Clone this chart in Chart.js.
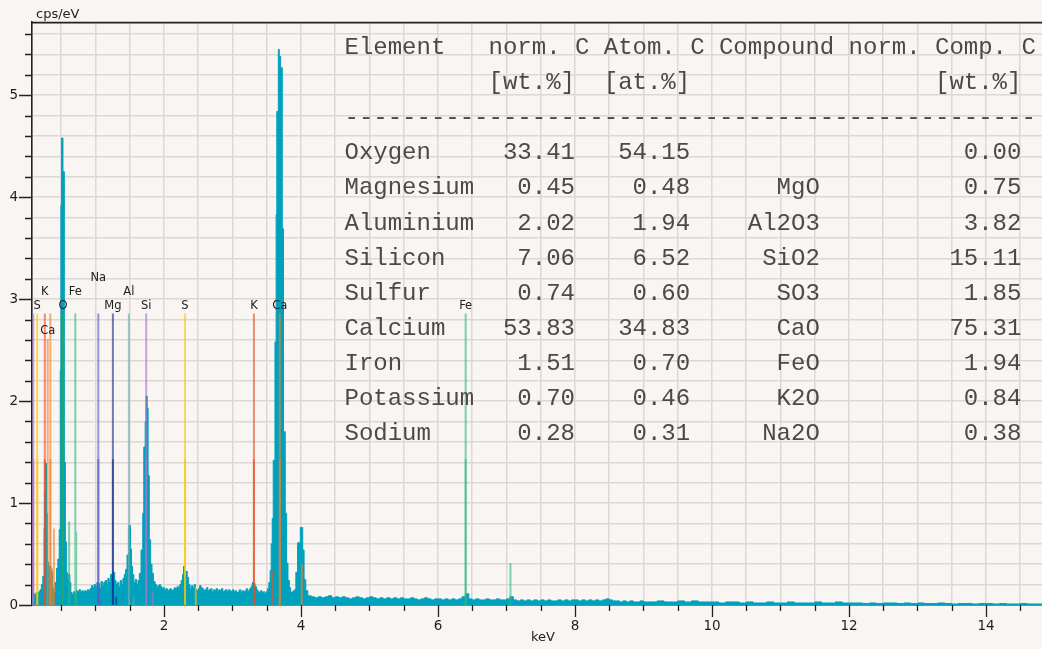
<!DOCTYPE html>
<html>
<head>
<meta charset="utf-8">
<script src="https://cdn.jsdelivr.net/npm/chart.js@4.4.0/dist/chart.umd.min.js"></script>
<style>
html,body{margin:0;padding:0;background:#f8f5f2;}
#wrap{width:1042px;height:649px;position:relative;}
</style>
</head>
<body>
<div id="wrap"><canvas id="c"></canvas></div>
<script>
// ---------- DATA ----------
// spectrum channels: [keV (bin start), cps/eV]
const spectrum = [
[0.073,0.09],[0.09,0.11],[0.11,0.10],[0.13,0.12],[0.15,0.09],[0.17,0.13],[0.19,0.15],[0.21,0.20],[0.23,0.28],[0.25,0.75],
[0.26,1.10],[0.27,1.39],[0.285,0.90],[0.30,0.42],[0.315,0.24],[0.33,0.38],[0.35,0.33],[0.37,0.17],[0.39,0.12],[0.41,0.22],
[0.43,0.36],[0.45,0.45],[0.47,0.74],[0.485,2.30],[0.495,3.92],[0.505,4.58],[0.525,4.25],[0.545,1.40],[0.56,0.62],[0.575,0.32],
[0.59,0.26],[0.61,0.30],[0.625,0.22],[0.64,0.12],[0.66,0.10],[0.68,0.13],[0.70,0.11],[0.72,0.14],[0.74,0.13],[0.76,0.15],
[0.78,0.13],[0.80,0.14],[0.82,0.12],[0.84,0.14],[0.86,0.13],[0.88,0.15],[0.90,0.14],[0.92,0.16],[0.94,0.19],[0.96,0.17],
[0.98,0.20],[1.00,0.18],[1.02,0.22],[1.04,0.21],[1.06,0.17],[1.08,0.23],[1.10,0.19],[1.12,0.22],[1.14,0.24],[1.16,0.20],
[1.18,0.26],[1.20,0.22],[1.22,0.30],[1.24,0.27],[1.26,0.32],[1.28,0.24],[1.30,0.20],[1.32,0.22],[1.34,0.18],[1.36,0.24],
[1.38,0.20],[1.40,0.26],[1.42,0.30],[1.44,0.35],[1.46,0.49],[1.49,0.78],[1.51,0.55],[1.525,0.38],[1.54,0.30],[1.56,0.22],
[1.58,0.25],[1.60,0.20],[1.62,0.24],[1.64,0.31],[1.665,0.54],[1.69,0.90],[1.705,1.55],[1.725,1.80],[1.738,2.05],[1.755,1.93],
[1.768,1.27],[1.785,0.64],[1.805,0.40],[1.825,0.31],[1.845,0.23],[1.87,0.20],[1.89,0.17],[1.91,0.19],[1.93,0.20],[1.95,0.18],
[1.97,0.16],[1.99,0.17],[2.01,0.15],[2.03,0.16],[2.05,0.14],[2.07,0.15],[2.09,0.16],[2.11,0.14],[2.13,0.15],[2.15,0.17],
[2.17,0.16],[2.19,0.18],[2.21,0.17],[2.23,0.20],[2.25,0.24],[2.27,0.30],[2.285,0.38],[2.30,0.30],[2.32,0.33],[2.34,0.27],
[2.36,0.20],[2.38,0.16],[2.40,0.19],[2.42,0.17],[2.44,0.20],[2.46,0.15],[2.48,0.14],[2.50,0.16],[2.52,0.19],[2.54,0.17],
[2.56,0.16],[2.58,0.14],[2.60,0.15],[2.62,0.17],[2.64,0.14],[2.66,0.15],[2.68,0.16],[2.70,0.13],[2.72,0.15],[2.74,0.14],
[2.76,0.16],[2.78,0.13],[2.80,0.15],[2.82,0.14],[2.84,0.16],[2.86,0.13],[2.88,0.14],[2.90,0.15],[2.92,0.13],[2.94,0.15],
[2.96,0.14],[2.98,0.13],[3.00,0.15],[3.02,0.13],[3.04,0.14],[3.06,0.12],[3.08,0.13],[3.10,0.15],[3.12,0.13],[3.14,0.14],
[3.16,0.12],[3.18,0.14],[3.20,0.16],[3.22,0.13],[3.24,0.15],[3.26,0.17],[3.28,0.19],[3.29,0.22],[3.31,0.21],[3.33,0.18],
[3.35,0.15],[3.37,0.13],[3.39,0.12],[3.41,0.14],[3.43,0.12],[3.45,0.13],[3.47,0.11],[3.49,0.13],[3.51,0.16],[3.53,0.22],
[3.55,0.34],[3.565,0.60],[3.58,0.85],[3.595,1.42],[3.62,2.58],[3.637,3.83],[3.647,4.84],[3.669,5.45],[3.683,5.38],[3.704,5.27],
[3.727,3.69],[3.745,1.70],[3.77,0.90],[3.79,0.41],[3.81,0.24],[3.83,0.17],[3.85,0.12],[3.87,0.13],[3.89,0.14],[3.905,0.15],
[3.925,0.32],[3.95,0.61],[3.99,0.76],[4.025,0.54],[4.045,0.25],[4.07,0.14],[4.10,0.09],[4.15,0.08],[4.20,0.07],[4.25,0.08],
[4.30,0.07],[4.35,0.08],[4.40,0.09],[4.45,0.07],[4.50,0.08],[4.55,0.07],[4.60,0.08],[4.65,0.07],[4.70,0.06],[4.75,0.07],
[4.80,0.08],[4.85,0.07],[4.90,0.06],[4.95,0.07],[5.00,0.08],[5.05,0.07],[5.10,0.06],[5.15,0.07],[5.20,0.06],[5.25,0.07],
[5.30,0.06],[5.35,0.07],[5.40,0.06],[5.45,0.07],[5.50,0.06],[5.55,0.06],[5.60,0.07],[5.65,0.06],[5.70,0.05],[5.75,0.06],
[5.80,0.07],[5.85,0.06],[5.90,0.05],[5.95,0.06],[6.00,0.06],[6.05,0.05],[6.10,0.06],[6.15,0.05],[6.20,0.06],[6.25,0.05],
[6.30,0.06],[6.35,0.08],[6.40,0.11],[6.45,0.06],[6.50,0.05],[6.55,0.06],[6.60,0.05],[6.65,0.05],[6.70,0.06],[6.75,0.05],
[6.80,0.05],[6.85,0.06],[6.90,0.05],[6.95,0.05],[7.00,0.06],[7.05,0.08],[7.10,0.05],[7.15,0.04],[7.20,0.05],[7.25,0.04],
[7.30,0.05],[7.35,0.04],[7.40,0.05],[7.45,0.04],[7.50,0.05],[7.55,0.04],[7.60,0.05],[7.65,0.04],[7.70,0.04],[7.75,0.05],
[7.80,0.04],[7.85,0.05],[7.90,0.04],[7.95,0.05],[8.00,0.05],[8.05,0.04],[8.10,0.05],[8.15,0.04],[8.20,0.05],[8.25,0.04],
[8.30,0.05],[8.35,0.04],[8.40,0.05],[8.45,0.06],[8.50,0.05],[8.55,0.04],[8.60,0.04],[8.65,0.03],[8.70,0.04],[8.75,0.03],
[8.80,0.04],[8.85,0.03],[8.90,0.03],[8.95,0.04],[9.00,0.03],[9.10,0.03],[9.20,0.04],[9.30,0.03],[9.40,0.03],[9.50,0.04],
[9.60,0.03],[9.70,0.04],[9.80,0.03],[9.90,0.03],[10.0,0.03],[10.1,0.02],[10.2,0.03],[10.3,0.03],[10.4,0.02],[10.5,0.03],
[10.6,0.02],[10.7,0.02],[10.8,0.03],[10.9,0.02],[11.0,0.02],[11.1,0.03],[11.2,0.02],[11.3,0.02],[11.4,0.02],[11.5,0.03],
[11.6,0.02],[11.7,0.02],[11.8,0.03],[11.9,0.02],[12.0,0.02],[12.1,0.02],[12.2,0.015],[12.3,0.02],[12.4,0.015],[12.5,0.02],
[12.6,0.02],[12.7,0.015],[12.8,0.02],[12.9,0.015],[13.0,0.02],[13.1,0.015],[13.2,0.015],[13.3,0.02],[13.4,0.015],[13.5,0.01],
[13.6,0.015],[13.7,0.015],[13.8,0.01],[13.9,0.015],[14.0,0.015],[14.1,0.01],[14.2,0.015],[14.3,0.01],[14.4,0.01],[14.5,0.015],
[14.6,0.01],[14.7,0.01],[14.82,0.01]
];

// element line markers: [element, keV, relative height]
const markerLines = [
['Si',0.092,2.86],['Si',1.740,2.86],['Si',1.836,0.13],
['S',0.149,2.86],['S',2.307,2.86],['S',2.464,0.18],
['K',0.260,2.86],['K',3.313,2.86],['K',3.590,0.34],
['Ca',0.302,2.61],['Ca',0.341,2.86],['Ca',0.370,0.36],['Ca',0.394,0.75],['Ca',3.691,2.86],['Ca',4.012,0.40],
['O',0.525,2.86],
['Fe',0.615,0.82],['Fe',0.705,2.86],['Fe',0.718,0.72],['Fe',6.404,2.86],['Fe',7.058,0.41],
['Na',1.041,2.86],['Na',1.071,0.05],
['Mg',1.254,2.86],['Mg',1.302,0.08],
['Al',1.487,2.86],['Al',1.557,0.08]
];
// second (alpha-2) lines of the doublets, half height
const markerDoublets = [
['Si',0.092,1.43],['Si',1.740,1.43],['S',0.149,1.43],['S',2.307,1.43],['K',0.260,1.43],['K',3.313,1.43],
['Ca',0.341,1.43],['Ca',3.691,1.43],['Fe',6.404,1.43],['Na',1.041,1.43],['Mg',1.254,1.43],['Al',1.487,0.75]
];
// labels: [text, keV, level (cps/eV)]
const markerLabels = [
['S',0.149,2.935],['K',0.260,3.066],['Ca',0.302,2.69],['O',0.525,2.935],['Fe',0.705,3.066],['Na',1.041,3.203],
['Mg',1.254,2.935],['Al',1.487,3.066],['Si',1.740,2.935],['S',2.307,2.935],['K',3.313,2.935],['Ca',3.691,2.935],['Fe',6.404,2.935]
];
const elementColors = {
Si:'rgba(176,112,200,0.62)', S:'rgba(245,200,0,0.62)', K:'rgba(238,76,36,0.62)', Ca:'rgba(246,126,36,0.62)',
O:'rgba(40,170,90,0.75)', Fe:'rgba(48,184,128,0.62)', Na:'rgba(88,88,200,0.62)', Mg:'rgba(20,50,150,0.62)', Al:'rgba(100,168,168,0.62)'
};

// quantification table
const tableHeader1 = 'Element   norm. C Atom. C Compound norm. Comp. C';
const tableUnits = ['[wt.%]','[at.%]','[wt.%]'];
const tableElements = ['Oxygen','Magnesium','Aluminium','Silicon','Sulfur','Calcium','Iron','Potassium','Sodium'];
const tableNormC = ['33.41','0.45','2.02','7.06','0.74','53.83','1.51','0.70','0.28'];
const tableAtomC = ['54.15','0.48','1.94','6.52','0.60','34.83','0.70','0.46','0.31'];
const tableCompound = ['','MgO','Al2O3','SiO2','SO3','CaO','FeO','K2O','Na2O'];
const tableCompC = ['0.00','0.75','3.82','15.11','1.85','75.31','1.94','0.84','0.38'];

// axes
const xTickLabels = [2,4,6,8,10,12,14];
const yTickLabels = [0,1,2,3,4,5];
const xRange = [0.073, 14.818];
const yRange = [0, 5.717];

// ---------- BUILD ----------
const TEAL = 'rgb(0,161,189)';
const xGrid = []; for (let k = 1; k <= 29; k++) xGrid.push(k * 0.5);
const yGrid = []; for (let k = 0; k <= 28; k++) yGrid.push(Math.round(k * 2) / 10);

const specData = spectrum.map(p => ({x: p[0], y: p[1]}));

function markerDataset(list, el) {
  const d = [];
  list.filter(m => m[0] === el).forEach(m => { d.push({x: m[1], y: 0}, {x: m[1], y: m[2]}, {x: m[1], y: null}); });
  return {
    data: d, borderColor: elementColors[el], borderWidth: 2, pointRadius: 0, fill: false,
    spanGaps: false, order: 1, tension: 0
  };
}
const elements = Object.keys(elementColors);
const datasets = [{
  data: specData, stepped: true, fill: 'origin', backgroundColor: TEAL, borderColor: TEAL,
  borderWidth: 1, pointRadius: 0, order: 10
}];
elements.forEach(el => datasets.push(markerDataset(markerLines, el)));
elements.forEach(el => { if (markerDoublets.some(m => m[0] === el)) datasets.push(markerDataset(markerDoublets, el)); });

const AXIS_FONT = {family: 'DejaVu Sans', size: 13.5};

const bgPlugin = {
  id: 'bg',
  beforeDraw(chart) {
    const c = chart.ctx; c.save(); c.fillStyle = '#f8f5f2'; c.fillRect(0, 0, chart.width, chart.height); c.restore();
  }
};
const labelPlugin = {
  id: 'labels',
  afterDatasetsDraw(chart) {
    const c = chart.ctx, x = chart.scales.x, y = chart.scales.y;
    c.save(); c.font = '11.5px "DejaVu Sans"'; c.fillStyle = '#222'; c.textAlign = 'center'; c.textBaseline = 'middle';
    markerLabels.forEach(l => c.fillText(l[0], x.getPixelForValue(l[1]), y.getPixelForValue(l[2])));
    c.restore();
  }
};
const framePlugin = {
  id: 'frame',
  afterDraw(chart) {
    const c = chart.ctx, a = chart.chartArea, x = chart.scales.x, y = chart.scales.y;
    c.save();
    c.strokeStyle = '#222'; c.lineWidth = 1.3;
    c.beginPath();
    y.ticks.forEach(t => {
      const py = Math.round(y.getPixelForValue(t.value)) + 0.5;
      const major = Math.abs(t.value - Math.round(t.value)) < 1e-6;
      c.moveTo(a.left - (major ? 13 : 7), py); c.lineTo(a.left, py);
    });
    x.ticks.forEach(t => {
      const px = Math.round(x.getPixelForValue(t.value)) + 0.5;
      const major = xTickLabels.indexOf(t.value) >= 0;
      c.moveTo(px, a.bottom); c.lineTo(px, a.bottom + (major ? 12 : 6));
    });
    c.stroke();
    c.lineWidth = 1.6;
    c.beginPath(); c.moveTo(a.left, a.top + 0.5); c.lineTo(a.right, a.top + 0.5); c.stroke();
    // axis titles
    c.fillStyle = '#222'; c.font = '13px "DejaVu Sans"'; c.textBaseline = 'middle';
    c.textAlign = 'left'; c.fillText('cps/eV', 36, 15);
    c.textAlign = 'center'; c.fillText('keV', 543, 638);
    // table
    c.font = '24px "Liberation Mono"'; c.fillStyle = '#4a4a4a'; c.textAlign = 'left'; c.textBaseline = 'alphabetic';
    const rows = [tableHeader1,
      ' '.repeat(10) + tableUnits[0] + '  ' + tableUnits[1] + ' '.repeat(17) + tableUnits[2],
      '-'.repeat(48)];
    tableElements.forEach((e, i) => rows.push(
      e.padEnd(10) + tableNormC[i].padStart(6) + tableAtomC[i].padStart(8) + tableCompound[i].padStart(9) + tableCompC[i].padStart(14)));
    rows.forEach((r, i) => c.fillText(r, 344.5, 54 + 35.1 * i));
    c.restore();
  }
};

Chart.defaults.font.family = 'DejaVu Sans';
new Chart(document.getElementById('c'), {
  type: 'line',
  data: {datasets},
  options: {
    responsive: true, maintainAspectRatio: false, devicePixelRatio: 1, animation: false,
    events: [],
    layout: {padding: {top: 20.7, left: 0, right: 0, bottom: 0}},
    plugins: {legend: {display: false}, tooltip: {enabled: false}},
    scales: {
      x: {
        type: 'linear', min: xRange[0], max: xRange[1],
        afterBuildTicks: s => { s.ticks = xGrid.map(v => ({value: v})); },
        afterFit: s => { s.height = 44; },
        ticks: {
          autoSkip: false, maxRotation: 0, padding: 13, font: AXIS_FONT, color: '#1e1e1e',
          callback: v => xTickLabels.indexOf(v) >= 0 ? String(v) : ''
        },
        grid: {drawTicks: false, color: '#dbd8d5', lineWidth: 1.5},
        border: {display: true, color: '#222', width: 1.6}
      },
      y: {
        type: 'linear', min: yRange[0], max: yRange[1],
        afterBuildTicks: s => { s.ticks = yGrid.map(v => ({value: v})); },
        afterFit: s => { s.width = 32; },
        ticks: {
          autoSkip: false, padding: 14, font: AXIS_FONT, color: '#1e1e1e',
          callback: v => { const r = Math.round(v); return (Math.abs(v - r) < 1e-6 && yTickLabels.indexOf(r) >= 0) ? String(r) : ''; }
        },
        grid: {drawTicks: false, color: '#dbd8d5', lineWidth: 1.5},
        border: {display: true, color: '#222', width: 1.6}
      }
    }
  },
  plugins: [bgPlugin, labelPlugin, framePlugin]
});
</script>
</body>
</html>
